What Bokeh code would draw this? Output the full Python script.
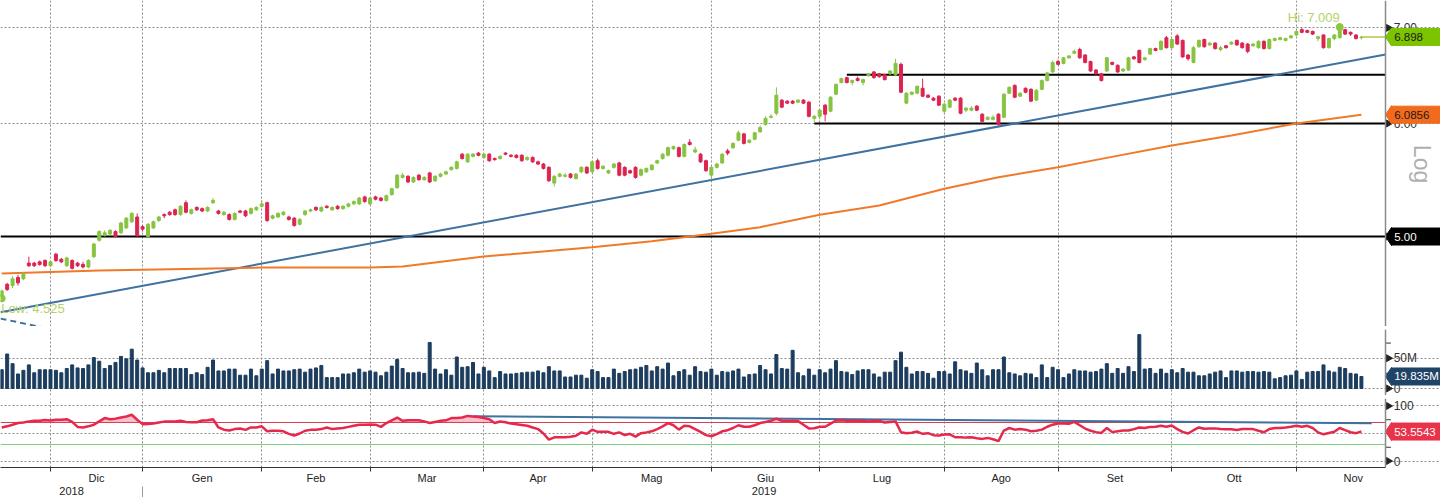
import math
from bokeh.plotting import figure
from bokeh.layouts import column
from bokeh.models import Range1d, FixedTicker, LinearAxis, Span
from bokeh.core.properties import value
from bokeh.embed import file_html
from bokeh.resources import INLINE

# ---------------- data (trading-day index 0 = 20 Nov 2018) ----------------
opens = [4.54, 4.63, 4.62, 4.68, 4.67, 4.79, 4.79, 4.80, 4.81, 4.77,
         4.86, 4.82, 4.77, 4.81, 4.79, 4.78, 4.76, 4.84, 4.97, 5.01,
         5.02, 5.04, 5.03, 5.07, 5.12, 5.16, 5.08, 5.00, 5.07, 5.13,
         5.18, 5.20, 5.22, 5.18, 5.28, 5.19, 5.24, 5.23, 5.21, 5.28,
         5.21, 5.18, 5.18, 5.14, 5.21, 5.21, 5.19, 5.22, 5.25, 5.28,
         5.15, 5.16, 5.18, 5.16, 5.15, 5.10, 5.18, 5.21, 5.24, 5.21,
         5.25, 5.22, 5.25, 5.23, 5.25, 5.27, 5.27, 5.33, 5.27, 5.33,
         5.32, 5.30, 5.35, 5.41, 5.50, 5.51, 5.46, 5.52, 5.48, 5.54,
         5.47, 5.51, 5.53, 5.57, 5.58, 5.71, 5.64, 5.69, 5.72, 5.68,
         5.71, 5.67, 5.67, 5.72, 5.70, 5.70, 5.70, 5.66, 5.68, 5.64,
         5.62, 5.59, 5.45, 5.51, 5.51, 5.53, 5.49, 5.55, 5.59, 5.55,
         5.65, 5.58, 5.54, 5.59, 5.63, 5.59, 5.56, 5.59, 5.52, 5.55,
         5.57, 5.63, 5.67, 5.70, 5.76, 5.77, 5.69, 5.82, 5.73, 5.71,
         5.65, 5.52, 5.59, 5.63, 5.74, 5.77, 5.84, 5.90, 5.82, 5.85,
         5.92, 5.99, 6.06, 6.10, 6.23, 6.22, 6.22, 6.21, 6.23, 6.21,
         6.05, 6.07, 6.18, 6.12, 6.29, 6.41, 6.46, 6.41, 6.45, 6.41,
         6.48, 6.52, 6.50, 6.49, 6.50, 6.49, 6.60, 6.20, 6.29, 6.30,
         6.35, 6.28, 6.25, 6.27, 6.12, 6.16, 6.25, 6.25, 6.13, 6.13,
         6.17, 6.09, 6.04, 6.04, 6.09, 6.06, 6.30, 6.38, 6.27, 6.35,
         6.34, 6.23, 6.34, 6.43, 6.52, 6.63, 6.61, 6.67, 6.72, 6.76,
         6.70, 6.63, 6.54, 6.50, 6.53, 6.62, 6.59, 6.53, 6.54, 6.68,
         6.75, 6.65, 6.71, 6.77, 6.76, 6.89, 6.78, 6.91, 6.86, 6.70,
         6.62, 6.79, 6.87, 6.81, 6.83, 6.76, 6.80, 6.82, 6.86, 6.83,
         6.82, 6.80, 6.78, 6.85, 6.77, 6.86, 6.87, 6.86, 6.89, 6.92,
         6.98, 6.97, 6.96, 6.88, 6.92, 6.78, 6.88, 6.89, 6.98, 6.95,
         6.92, 6.89]
highs = [4.59, 4.64, 4.69, 4.70, 4.72, 4.84, 4.80, 4.81, 4.82, 4.81,
         4.87, 4.83, 4.84, 4.82, 4.80, 4.80, 4.82, 4.95, 5.05, 5.05,
         5.06, 5.05, 5.12, 5.16, 5.20, 5.19, 5.09, 5.11, 5.13, 5.17,
         5.19, 5.21, 5.23, 5.26, 5.30, 5.23, 5.25, 5.24, 5.25, 5.32,
         5.22, 5.21, 5.19, 5.20, 5.22, 5.22, 5.24, 5.25, 5.30, 5.29,
         5.18, 5.20, 5.21, 5.17, 5.16, 5.15, 5.22, 5.23, 5.25, 5.25,
         5.26, 5.25, 5.26, 5.26, 5.28, 5.30, 5.33, 5.34, 5.33, 5.34,
         5.33, 5.35, 5.41, 5.53, 5.54, 5.52, 5.51, 5.53, 5.51, 5.55,
         5.52, 5.54, 5.56, 5.60, 5.65, 5.72, 5.72, 5.72, 5.73, 5.72,
         5.72, 5.68, 5.70, 5.73, 5.71, 5.71, 5.71, 5.69, 5.69, 5.65,
         5.63, 5.60, 5.52, 5.54, 5.54, 5.54, 5.54, 5.60, 5.60, 5.65,
         5.67, 5.61, 5.57, 5.63, 5.64, 5.60, 5.57, 5.60, 5.58, 5.59,
         5.62, 5.66, 5.72, 5.78, 5.79, 5.78, 5.81, 5.85, 5.78, 5.72,
         5.66, 5.60, 5.63, 5.72, 5.76, 5.82, 5.93, 5.91, 5.85, 5.92,
         5.98, 6.07, 6.09, 6.36, 6.24, 6.23, 6.23, 6.24, 6.24, 6.22,
         6.08, 6.14, 6.19, 6.27, 6.40, 6.46, 6.47, 6.44, 6.47, 6.45,
         6.51, 6.53, 6.51, 6.50, 6.54, 6.66, 6.62, 6.31, 6.32, 6.38,
         6.45, 6.29, 6.26, 6.28, 6.20, 6.24, 6.26, 6.26, 6.16, 6.17,
         6.18, 6.10, 6.07, 6.08, 6.10, 6.30, 6.37, 6.39, 6.31, 6.36,
         6.35, 6.34, 6.44, 6.52, 6.64, 6.65, 6.68, 6.70, 6.76, 6.78,
         6.71, 6.64, 6.55, 6.51, 6.68, 6.63, 6.60, 6.56, 6.68, 6.69,
         6.76, 6.68, 6.78, 6.78, 6.86, 6.91, 6.88, 6.93, 6.87, 6.71,
         6.80, 6.87, 6.88, 6.84, 6.84, 6.80, 6.81, 6.85, 6.87, 6.84,
         6.83, 6.83, 6.86, 6.86, 6.88, 6.89, 6.90, 6.89, 6.92, 6.97,
         7.00, 6.98, 6.97, 6.91, 6.93, 6.89, 6.93, 7.009, 6.99, 6.96,
         6.93, 6.91]
lows = [4.525, 4.58, 4.60, 4.62, 4.66, 4.76, 4.76, 4.77, 4.76, 4.76,
        4.80, 4.79, 4.76, 4.74, 4.76, 4.75, 4.75, 4.83, 4.96, 5.00,
        5.01, 4.99, 5.02, 5.06, 5.11, 4.99, 5.04, 4.99, 5.06, 5.12,
        5.15, 5.17, 5.17, 5.17, 5.19, 5.18, 5.21, 5.20, 5.20, 5.27,
        5.18, 5.17, 5.13, 5.13, 5.19, 5.16, 5.18, 5.21, 5.24, 5.12,
        5.14, 5.15, 5.17, 5.13, 5.08, 5.09, 5.17, 5.20, 5.21, 5.20,
        5.23, 5.21, 5.22, 5.22, 5.24, 5.26, 5.26, 5.28, 5.26, 5.30,
        5.29, 5.29, 5.34, 5.40, 5.49, 5.45, 5.45, 5.47, 5.47, 5.45,
        5.46, 5.50, 5.52, 5.56, 5.57, 5.66, 5.63, 5.68, 5.69, 5.67,
        5.64, 5.65, 5.66, 5.70, 5.68, 5.67, 5.64, 5.65, 5.63, 5.61,
        5.57, 5.46, 5.42, 5.50, 5.50, 5.49, 5.48, 5.54, 5.53, 5.54,
        5.57, 5.57, 5.53, 5.58, 5.51, 5.51, 5.53, 5.49, 5.51, 5.54,
        5.56, 5.62, 5.66, 5.69, 5.75, 5.68, 5.68, 5.79, 5.72, 5.63,
        5.55, 5.48, 5.58, 5.62, 5.70, 5.76, 5.83, 5.80, 5.81, 5.84,
        5.91, 5.98, 6.05, 6.08, 6.15, 6.19, 6.19, 6.20, 6.19, 6.06,
        6.01, 6.04, 6.02, 6.11, 6.28, 6.40, 6.40, 6.38, 6.42, 6.38,
        6.47, 6.45, 6.46, 6.43, 6.49, 6.48, 6.30, 6.19, 6.28, 6.29,
        6.26, 6.25, 6.22, 6.17, 6.09, 6.15, 6.22, 6.09, 6.11, 6.12,
        6.12, 6.01, 6.03, 6.03, 5.98, 6.05, 6.29, 6.25, 6.26, 6.30,
        6.21, 6.22, 6.33, 6.42, 6.51, 6.59, 6.60, 6.66, 6.71, 6.66,
        6.61, 6.52, 6.49, 6.42, 6.52, 6.59, 6.51, 6.52, 6.53, 6.65,
        6.61, 6.64, 6.70, 6.74, 6.75, 6.77, 6.77, 6.81, 6.67, 6.64,
        6.61, 6.78, 6.78, 6.80, 6.76, 6.74, 6.77, 6.81, 6.80, 6.77,
        6.72, 6.79, 6.77, 6.76, 6.76, 6.85, 6.86, 6.85, 6.88, 6.91,
        6.94, 6.94, 6.92, 6.85, 6.77, 6.77, 6.86, 6.88, 6.92, 6.91,
        6.87, 6.87]
closes = [4.58, 4.59, 4.67, 4.64, 4.71, 4.77, 4.77, 4.78, 4.77, 4.80,
          4.81, 4.80, 4.83, 4.75, 4.77, 4.76, 4.81, 4.94, 5.04, 5.03,
          5.05, 5.00, 5.11, 5.15, 5.19, 5.01, 5.06, 5.10, 5.12, 5.16,
          5.17, 5.18, 5.18, 5.25, 5.20, 5.22, 5.22, 5.21, 5.24, 5.30,
          5.19, 5.20, 5.14, 5.19, 5.20, 5.17, 5.23, 5.24, 5.27, 5.13,
          5.17, 5.19, 5.20, 5.14, 5.09, 5.14, 5.21, 5.22, 5.22, 5.24,
          5.24, 5.24, 5.23, 5.25, 5.27, 5.29, 5.32, 5.29, 5.32, 5.31,
          5.30, 5.34, 5.40, 5.52, 5.52, 5.46, 5.50, 5.48, 5.50, 5.46,
          5.51, 5.53, 5.55, 5.59, 5.64, 5.67, 5.71, 5.71, 5.70, 5.71,
          5.65, 5.66, 5.69, 5.71, 5.69, 5.68, 5.65, 5.68, 5.64, 5.62,
          5.58, 5.47, 5.51, 5.53, 5.52, 5.50, 5.53, 5.59, 5.54, 5.64,
          5.58, 5.60, 5.56, 5.62, 5.52, 5.52, 5.54, 5.50, 5.57, 5.58,
          5.61, 5.65, 5.71, 5.77, 5.78, 5.69, 5.80, 5.80, 5.75, 5.64,
          5.56, 5.59, 5.62, 5.71, 5.72, 5.81, 5.91, 5.81, 5.84, 5.91,
          5.96, 6.05, 6.07, 6.28, 6.16, 6.20, 6.20, 6.23, 6.20, 6.07,
          6.07, 6.13, 6.09, 6.26, 6.39, 6.45, 6.41, 6.43, 6.43, 6.44,
          6.50, 6.46, 6.47, 6.44, 6.53, 6.61, 6.31, 6.30, 6.31, 6.37,
          6.27, 6.26, 6.23, 6.18, 6.19, 6.23, 6.23, 6.10, 6.15, 6.15,
          6.13, 6.02, 6.06, 6.06, 5.99, 6.29, 6.36, 6.26, 6.30, 6.31,
          6.22, 6.33, 6.43, 6.51, 6.62, 6.60, 6.67, 6.69, 6.74, 6.67,
          6.62, 6.53, 6.50, 6.43, 6.67, 6.60, 6.52, 6.55, 6.67, 6.66,
          6.62, 6.67, 6.77, 6.75, 6.85, 6.78, 6.87, 6.82, 6.68, 6.66,
          6.78, 6.86, 6.79, 6.83, 6.77, 6.78, 6.78, 6.84, 6.81, 6.78,
          6.74, 6.82, 6.85, 6.77, 6.87, 6.88, 6.89, 6.88, 6.91, 6.96,
          6.95, 6.95, 6.93, 6.90, 6.78, 6.88, 6.92, 7.00, 6.93, 6.93,
          6.88, 6.898]
volumes_m = [31, 57, 41, 24, 30, 39, 26, 31, 31, 31, 30, 26, 33, 39, 34, 33, 39, 51, 45, 33,
             38, 43, 53, 49, 65, 47, 34, 26, 26, 30, 26, 33, 33, 33, 33, 23, 26,
             23, 35, 47, 29, 29, 32, 32, 22, 22, 32, 21, 32, 46, 24, 32, 29, 29, 31, 32, 27,
             32, 34, 38, 18, 18, 18, 24, 24, 26, 32, 27, 29, 27, 21, 27, 37, 48, 33, 26, 26,
             27, 25, 76, 32, 24, 31, 22, 52, 35, 36, 43, 24, 35, 29, 18, 28, 24, 24, 25, 26,
             27, 27, 29, 26, 36, 29, 29, 19, 19, 22, 22, 17, 31, 28, 18, 18, 32, 25,
             28, 31, 32, 35, 38, 29, 36, 32, 42, 21, 28, 31, 22, 36, 28, 27, 32, 22, 28, 27,
             29, 32, 19, 23, 24, 38, 31, 24, 56, 33, 32, 63, 26, 21, 32, 22, 31, 26, 32, 46,
             28, 27, 23, 29, 31, 31, 24, 19, 27, 27, 46, 60, 35, 24, 28, 28, 25, 17, 28, 28,
             24, 44, 31, 29, 25, 42, 31, 21, 31, 31,
             52, 26, 24, 21, 25, 24, 18, 39, 18, 35, 31, 18, 24, 31, 29, 29, 27, 28, 32, 41,
             25, 33, 25, 36, 28, 89, 32, 33, 25, 32, 25, 31, 26, 33, 27, 27, 21, 21, 24, 27,
             29, 18, 29, 29, 27, 28, 28, 27, 28, 27, 16, 18, 21, 22, 29, 15, 27, 28, 28, 39,
             29, 27, 35, 33, 25, 24, 19.835]
rsi = [61, 63, 66, 69, 70, 72, 73, 73, 74.6, 73.5, 75, 75, 76, 71, 62, 61, 63, 66, 72, 78,
       76, 77, 79, 81, 84, 75, 67, 67.4, 68, 70, 71.6, 72, 72, 73, 71, 70.4, 70.4,
       73.5, 74, 76, 61, 57, 55.5, 58, 59, 56.6, 61, 61, 63, 54, 55, 55, 54, 49.4, 46.4, 50, 55,
       56.6, 57, 58, 61, 58, 59, 60, 62, 64, 66, 66, 66.5, 66, 62, 69, 74, 79, 73, 74, 74,
       74, 72, 69, 71, 73, 74, 78, 78, 79, 82, 81, 80, 78, 76, 69, 71.8, 70.5, 68, 67, 65.5,
       64, 61, 58, 50, 39, 43, 43, 43, 44, 46, 52, 49.4, 57, 53,
       53, 53, 49.4, 52, 47, 49.4, 44.4, 50.6, 52, 54, 58, 63, 68.9, 65, 57, 64, 63, 58, 53, 47,
       45, 49, 54, 56, 60, 65, 62.3, 62.3, 65, 69, 71, 73, 77, 73, 73, 73, 72.5, 66, 59.3, 59.6,
       62.3, 62.3, 68, 73.5, 74, 73, 73, 73, 72.5, 72, 73, 73, 70, 71, 72, 52.2, 50.6, 51.5, 53.5, 49.4,
       50.6, 47, 46.4, 48, 48.5, 43.2, 43.2, 42.5, 43, 41.5, 40.2, 42, 39.5, 36.2,
       55.4, 60, 57, 58, 57, 54, 55, 57, 62.3, 66, 68, 68, 67.5, 71, 65, 59, 55, 52.5, 51, 60,
       52.5, 54, 55.4, 55.4, 58, 61, 60, 62, 62.3, 64, 62.3, 64.5, 58, 53, 50, 56, 61, 58.5, 59, 59.3,
       58, 57.5, 57.5, 56.5, 58, 58, 58, 55, 52.2, 58, 60, 60, 61, 62.3, 64, 62.3, 64, 60, 52, 48.5,
       51, 53, 60, 56, 52.2, 50.6, 53.5543]

# 200-day moving average read at sample points
ma_idx = [0, 18, 48, 68, 74, 89, 109, 120, 127, 131, 140, 151, 162, 174, 184, 195, 203, 216, 227, 239, 251]
ma_val = [4.71, 4.733, 4.756, 4.756, 4.764, 4.841, 4.914, 4.962, 5.00, 5.022, 5.076, 5.178,
          5.256, 5.40, 5.502, 5.591, 5.667, 5.791, 5.885, 6.00, 6.0856]

# drawn analysis lines
trend_idx = [-0.23, 255.45]
trend_val = [4.425, 6.706]
trend2_idx = [-0.23, 10.0]
trend2_val = [4.38, 4.30]
level_val = [5.00, 6.00, 6.49]
level_start = [-0.23, 150, 156]
rsi_trend_idx = [87.1, 252.9]
rsi_trend_val = [81.5, 68.7]

month_starts = [9, 26, 48, 68, 89, 109, 131, 151, 174, 195, 216, 239, 260]
month_names = ["Dic", "Gen", "Feb", "Mar", "Apr", "Mag", "Giu", "Lug", "Ago", "Set", "Ott", "Nov"]
year_names = ["2018", "2019"]
year_bounds = [-0.23, 26, 255.45]

last_price, last_ma, last_vol, last_rsi = 6.898, 6.0856, 19.835, 53.5543
hi_idx, hi_val = 247, 7.009
lo_idx, lo_val = 0, 4.525

# ---------------- layout constants ----------------
FONT = "Liberation Sans"
W = 1440
X0, X1 = -0.23, 265.6
AXIS_X = 255.45
TICK_X = 256.0
LABEL_X = 256.95
TAG_X = 256.55
TAG_TEXT_X = 257.05
TAG_BODY_X = 262.1
UP, DOWN = "#86c440", "#dc2450"
N = len(closes)
idx = list(range(N))
xr = Range1d(X0, X1)


def base_fig(h, yr, log=False):
    p = figure(width=W, height=h, x_range=xr, y_range=yr,
               y_axis_type="log" if log else "linear",
               x_axis_location=None, y_axis_location=None,
               toolbar_location=None, output_backend="svg",
               min_border=0, outline_line_color=None)
    p.xgrid.ticker = FixedTicker(ticks=month_starts[:-1])
    for g in (p.xgrid, p.ygrid):
        g.grid_line_color = "#8c8c8c"
        g.grid_line_dash = "2 2"
        g.grid_line_width = 1
    p.ygrid.bounds = (X0, AXIS_X)
    p.add_layout(Span(location=AXIS_X, dimension="height", line_color="#8a8a8a", line_width=1.5))
    return p


def ticks(p, vals, labels, minor=()):
    p.scatter(x=[TICK_X] * len(vals), y=vals, marker="triangle", angle=-math.pi / 2,
              size=7, fill_color="#222222", line_color="#222222")
    if minor:
        p.segment(x0=[AXIS_X] * len(minor), x1=[AXIS_X + 1.0] * len(minor), y0=list(minor),
                  y1=list(minor), line_color="#333333", line_width=1)
    p.text(x=[LABEL_X] * len(vals), y=vals, text=labels, text_font=value(FONT),
           text_font_size="12px", text_color="#333333", text_align="left", text_baseline="middle")


def tag(p, yv, txt, bg, fg):
    p.scatter(x=[TAG_X], y=[yv], marker="diamond", size=18, fill_color=bg, line_color=bg)
    p.rect(x=[TAG_BODY_X], y=[yv], width=60, height=17, width_units="screen",
           height_units="screen", fill_color=bg, line_color=bg)
    p.text(x=[TAG_TEXT_X], y=[yv], text=[txt], text_font=value(FONT), text_font_size="11.5px",
           text_color=fg, text_align="left", text_baseline="middle")


# ---------------- price panel ----------------
p1 = base_fig(326, Range1d(4.3246, 7.316), log=True)
p1.ygrid.ticker = FixedTicker(ticks=[6.0, 7.0])

p1.segment(x0=level_start, x1=[AXIS_X] * len(level_val), y0=level_val, y1=level_val,
           line_color="black", line_width=2)
p1.line(trend_idx, trend_val, line_color="#3e72a0", line_width=2)
p1.line(trend2_idx, trend2_val, line_color="#3e72a0", line_width=2, line_dash="6 4")
p1.line(ma_idx, ma_val, line_color="#f07a2a", line_width=2)

colors = [UP if c >= o else DOWN for o, c in zip(opens, closes)]
p1.segment(x0=idx, x1=idx, y0=lows, y1=highs, line_color=colors, line_width=1)
p1.vbar(x=idx, width=0.55, top=[max(o, c) for o, c in zip(opens, closes)],
        bottom=[min(o, c) for o, c in zip(opens, closes)], fill_color=colors, line_color=colors)

p1.line([N - 1, AXIS_X], [last_price, last_price], line_color="#b5c74a", line_width=1.5)
p1.scatter([hi_idx], [hi_val], size=7, color="#8cc63f")
p1.scatter([lo_idx], [lo_val], size=7, color="#8cc63f")
p1.text(x=[237.4], y=[7.12], text=["Hi: %.3f" % hi_val], text_font=value(FONT),
        text_font_size="13px", text_color="#b3d36a", text_align="left", text_baseline="middle")
p1.text(x=[-0.1], y=[4.452], text=["Low: %.3f" % lo_val], text_font=value(FONT),
        text_font_size="13px", text_color="#b3d36a", text_align="left", text_baseline="middle")
p1.text(x=[262.1], y=[5.62], text=["Log"], angle=-math.pi / 2, text_font=value(FONT),
        text_font_size="23px", text_color="#b0b0b0", text_align="center", text_baseline="middle")

ticks(p1, [7.0, 6.0, 5.0], ["7.00", "6.00", "5.00"])
tag(p1, last_price, "%.3f" % last_price, "#7cc300", "#1a1a1a")
tag(p1, last_ma, "%.4f" % last_ma, "#f26a1b", "#1a1a1a")
tag(p1, 5.00, "5.00", "#000000", "#ffffff")

# ---------------- volume panel ----------------
p2 = base_fig(66, Range1d(-11.55, 97.4))
p2.ygrid.ticker = FixedTicker(ticks=[0, 50])
p2.vbar(x=idx, width=0.55, top=volumes_m, bottom=0, fill_color="#1d3d5e", line_color="#1d3d5e")
ticks(p2, [50, 0], ["50M", "0"], minor=(25, 75))
tag(p2, last_vol, "%.3fM" % last_vol, "#1f4468", "#ffffff")

# ---------------- RSI panel ----------------
p3 = base_fig(99, Range1d(-11.8, 113.6))
p3.ygrid.ticker = FixedTicker(ticks=[0, 50, 100])
p3.varea(x=idx, y1=[70] * N, y2=[max(v, 70) for v in rsi], fill_color="#f4a7b6", fill_alpha=0.7)
p3.line([X0, AXIS_X], [70, 70], line_color="#e03a4e", line_width=1)
p3.line([X0, AXIS_X], [30, 30], line_color="#7fd07f", line_width=1.2)
p3.line(rsi_trend_idx, rsi_trend_val, line_color="#3e72a0", line_width=2)
p3.line(idx, rsi, line_color="#e6284c", line_width=2.5)
ticks(p3, [100, 0], ["100", "0"], minor=(25, 50, 75))
tag(p3, last_rsi, "%.4f" % last_rsi, "#e8334a", "#ffffff")

centers = [(month_starts[k] + month_starts[k + 1]) / 2.0 for k in range(len(month_names))]
ax1 = LinearAxis(ticker=FixedTicker(ticks=centers, minor_ticks=month_starts[:-1]),
                 major_label_overrides={float(c): n for c, n in zip(centers, month_names)})
ax1.bounds = (X0, AXIS_X)
ax1.major_tick_line_color = None
ax1.major_tick_out = 0
ax1.major_tick_in = 0
ax1.minor_tick_line_color = "#333333"
ax1.minor_tick_out = 4
ax1.minor_tick_in = 0
ax1.axis_line_color = "#333333"
ax1.major_label_standoff = 0
ax1.major_label_text_font = FONT
ax1.major_label_text_font_size = "11px"
ax1.major_label_text_color = "#222222"

ycent = [(year_bounds[k] + year_bounds[k + 1]) / 2.0 for k in range(len(year_names))]
ax2 = LinearAxis(ticker=FixedTicker(ticks=ycent, minor_ticks=[year_bounds[1]]),
                 major_label_overrides={float(c): n for c, n in zip(ycent, year_names)})
ax2.axis_line_color = None
ax2.major_tick_line_color = None
ax2.major_tick_out = 0
ax2.major_tick_in = 0
ax2.minor_tick_line_color = "#9a9a9a"
ax2.minor_tick_out = 14
ax2.minor_tick_in = 0
ax2.major_label_standoff = -14
ax2.major_label_text_font = FONT
ax2.major_label_text_font_size = "11px"
ax2.major_label_text_color = "#222222"
p3.add_layout(ax1, "below")
p3.add_layout(ax2, "below")


def separator():
    s = figure(width=W, height=3, x_range=xr, toolbar_location=None, output_backend="svg",
               x_axis_location=None, y_axis_location=None, min_border=0,
               outline_line_color=None, background_fill_color="#3d3d3d",
               border_fill_color="#3d3d3d")
    s.xgrid.visible = False
    s.ygrid.visible = False
    return s


layout = column(p1, separator(), p2, separator(), p3, spacing=0)
open("out.html", "w").write(file_html(layout, INLINE))
